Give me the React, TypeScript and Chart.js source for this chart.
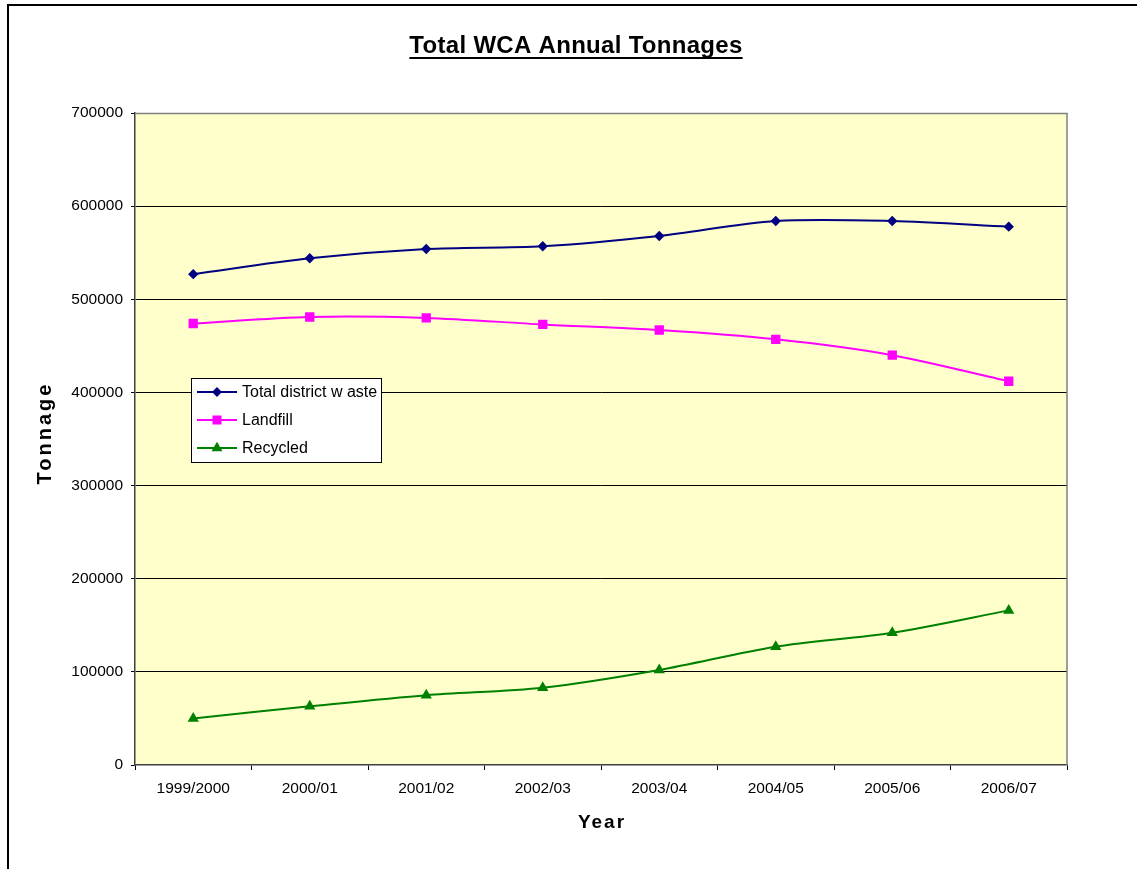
import React, { useEffect, useRef } from "react";
import { Chart, registerables } from "chart.js";

Chart.register(...registerables);

const categories = ["1999/2000", "2000/01", "2001/02", "2002/03", "2003/04", "2004/05", "2005/06", "2006/07"];
const totalWaste = [527000, 544000, 554000, 557000, 568000, 584000, 584000, 578000];
const landfill = [474000, 481000, 480000, 473000, 467000, 457000, 440000, 412000];
const recycled = [50000, 63000, 75000, 83000, 102000, 127000, 142000, 166000];
const yTicks = [0, 100000, 200000, 300000, 400000, 500000, 600000, 700000];

const titleText = "Total WCA Annual Tonnages";
const xTitle = "Year";
const yTitle = "Tonnage";
const seriesNames = ["Total district w aste", "Landfill", "Recycled"];

const FONT = "'Liberation Sans', Arial, sans-serif";
const W = 1137;
const H = 869;

const NAVY = "#000080";
const MAGENTA = "#FF00FF";
const GREEN = "#008000";

function drawMarker(ctx: CanvasRenderingContext2D, style: string, x: number, y: number, color: string) {
  ctx.save();
  ctx.fillStyle = color;
  ctx.beginPath();
  if (style === "rectRot") {
    const r = 5;
    ctx.moveTo(x - r, y);
    ctx.lineTo(x, y - r);
    ctx.lineTo(x + r, y);
    ctx.lineTo(x, y + r);
  } else if (style === "rect") {
    const s = 4.5;
    ctx.rect(x - s, y - s, 2 * s, 2 * s);
  } else {
    const r = 6.3;
    ctx.moveTo(x, y - r);
    ctx.lineTo(x + r * 0.866, y + r * 0.5);
    ctx.lineTo(x - r * 0.866, y + r * 0.5);
  }
  ctx.closePath();
  ctx.fill();
  ctx.restore();
}

const decorPlugin = {
  id: "decor",
  beforeDraw(chart: any) {
    const ctx = chart.ctx as CanvasRenderingContext2D;
    const a = chart.chartArea;
    ctx.save();
    ctx.fillStyle = "#FFFFFF";
    ctx.fillRect(0, 0, chart.width, chart.height);
    ctx.fillStyle = "#FFFFCC";
    ctx.fillRect(a.left, a.top, a.right - a.left, a.bottom - a.top);
    ctx.restore();
  },
  afterDraw(chart: any) {
    const ctx = chart.ctx as CanvasRenderingContext2D;
    const a = chart.chartArea;
    ctx.save();
    // plot area right and top border
    ctx.strokeStyle = "#808080";
    ctx.lineWidth = 1.5;
    ctx.beginPath();
    ctx.moveTo(a.left, a.top + 0.5);
    ctx.lineTo(a.right, a.top + 0.5);
    ctx.lineTo(a.right, a.bottom);
    ctx.stroke();

    // outer frame
    ctx.strokeStyle = "#000000";
    ctx.lineWidth = 2;
    ctx.beginPath();
    ctx.moveTo(8, H);
    ctx.lineTo(8, 5);
    ctx.lineTo(W, 5);
    ctx.stroke();

    // title
    ctx.fillStyle = "#000000";
    ctx.font = `bold 24px ${FONT}`;
    ctx.textAlign = "center";
    ctx.textBaseline = "middle";
    (ctx as any).letterSpacing = "0.3px";
    const tx = 576;
    const ty = 46;
    ctx.fillText(titleText, tx, ty);
    const tw = ctx.measureText(titleText).width;
    ctx.fillRect(tx - tw / 2, ty + 11, tw, 2);

    // axis titles
    ctx.font = `bold 19px ${FONT}`;
    (ctx as any).letterSpacing = "2px";
    ctx.fillText(xTitle, (a.left + a.right) / 2 + 1, 823);
    ctx.save();
    ctx.translate(45, (a.top + a.bottom) / 2 - 6);
    ctx.rotate(-Math.PI / 2);
    (ctx as any).letterSpacing = "3px";
    ctx.font = `bold 20px ${FONT}`;
    ctx.fillText(yTitle, 0, 0);
    ctx.restore();
    (ctx as any).letterSpacing = "0px";

    // legend
    const lx = 191.5, ly = 378.5, lw = 190, lh = 84;
    ctx.fillStyle = "#FFFFFF";
    ctx.fillRect(lx, ly, lw, lh);
    ctx.strokeStyle = "#000000";
    ctx.lineWidth = 1;
    ctx.strokeRect(lx, ly, lw, lh);
    const colors = [NAVY, MAGENTA, GREEN];
    const styles = ["rectRot", "rect", "triangle"];
    const rows = [392, 420, 448];
    ctx.font = `16px ${FONT}`;
    ctx.textAlign = "left";
    ctx.textBaseline = "middle";
    for (let i = 0; i < 3; i++) {
      ctx.strokeStyle = colors[i];
      ctx.lineWidth = 1.8;
      ctx.beginPath();
      ctx.moveTo(197, rows[i]);
      ctx.lineTo(237, rows[i]);
      ctx.stroke();
      drawMarker(ctx, styles[i], 217, rows[i], colors[i]);
      ctx.fillStyle = "#000000";
      ctx.fillText(seriesNames[i], 242, rows[i] + 1);
    }
    ctx.restore();
  },
};

export default function App() {
  const ref = useRef<HTMLCanvasElement | null>(null);
  useEffect(() => {
    if (!ref.current) return;
    const chart = new Chart(ref.current, {
      type: "line",
      data: {
        labels: categories,
        datasets: [
          {
            label: seriesNames[0],
            data: totalWaste,
            borderColor: NAVY,
            backgroundColor: NAVY,
            borderWidth: 2,
            pointStyle: "rectRot",
            pointRadius: 5.2,
            pointBorderWidth: 0,
            tension: 0.3,
          },
          {
            label: seriesNames[1],
            data: landfill,
            borderColor: MAGENTA,
            backgroundColor: MAGENTA,
            borderWidth: 2,
            pointStyle: "rect",
            pointRadius: 6.6,
            pointBorderWidth: 0,
            tension: 0.3,
          },
          {
            label: seriesNames[2],
            data: recycled,
            borderColor: GREEN,
            backgroundColor: GREEN,
            borderWidth: 2,
            pointStyle: "triangle",
            pointRadius: 6.5,
            pointBorderWidth: 0,
            tension: 0.3,
          },
        ],
      },
      options: {
        responsive: false,
        animation: false,
        layout: { padding: { top: 113, left: 0, right: W - 1067, bottom: 0 } },
        plugins: {
          legend: { display: false },
          title: { display: false },
          tooltip: { enabled: false },
        },
        scales: {
          x: {
            type: "category",
            offset: true,
            grid: {
              display: true,
              offset: true,
              drawOnChartArea: false,
              tickLength: 5,
              tickColor: "#000000",
              lineWidth: 1,
            },
            border: { display: true, color: "#404040", width: 1.5 },
            ticks: {
              color: "#000000",
              font: { family: FONT, size: 15.5 },
              padding: 9,
              maxRotation: 0,
              autoSkip: false,
            },
            afterFit: (s: any) => {
              s.height = H - 765;
            },
          },
          y: {
            min: 0,
            max: 700000,
            afterBuildTicks: (s: any) => {
              s.ticks = yTicks.map((v) => ({ value: v }));
            },
            grid: {
              color: (c: any) =>
                c.tick && c.tick.value === 0
                  ? "rgba(0,0,0,0)"
                  : c.tick && c.tick.value === 700000
                  ? "#808080"
                  : "#000000",
              tickColor: "#000000",
              tickLength: 4,
              lineWidth: 1,
            },
            border: { display: true, color: "#404040", width: 1.5 },
            ticks: {
              color: "#000000",
              font: { family: FONT, size: 15.5 },
              padding: 8,
              callback: (v: any) => String(v),
            },
            afterFit: (s: any) => {
              s.width = 135;
            },
          },
        },
      },
      plugins: [decorPlugin],
    });
    return () => chart.destroy();
  }, []);
  return (
    <div style={{ position: "fixed", left: 0, top: 0, width: W, height: H, background: "#fff" }}>
      <canvas ref={ref} width={W} height={H} style={{ width: W, height: H, display: "block" }} />
    </div>
  );
}
